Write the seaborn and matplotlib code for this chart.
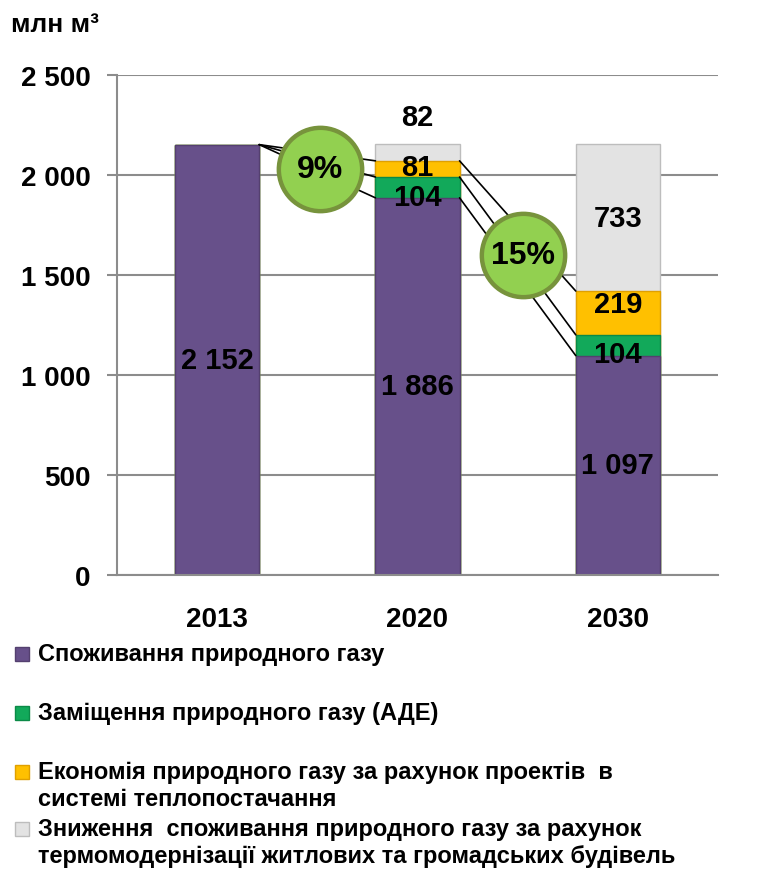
import numpy as np
import seaborn as sns
import matplotlib.pyplot as plt
from matplotlib.patches import Rectangle

# дані
years = ["2013", "2020", "2030"]
spozhyvannia = [2152, 1886, 1097]
zamishchennia = [0, 104, 104]
ekonomiia = [0, 81, 219]
znyzhennia = [0, 82, 733]

series_names = [
    "Споживання природного газу",
    "Заміщення природного газу (АДЕ)",
    "Економія природного газу за рахунок проектів  в\nсистемі теплопостачання",
    "Зниження  споживання природного газу за рахунок\nтермомодернізації житлових та громадських будівель",
]
percent_labels = ["9%", "15%"]

colors = ["#67508A", "#12A95A", "#FFC000", "#E3E3E3"]
edges = ["#54406F", "#0B8A47", "#E0A000", "#BDBDBD"]

sns.set_style("white")
plt.rcParams["font.family"] = ["Liberation Sans", "DejaVu Sans"]
plt.rcParams["font.weight"] = "bold"
plt.rcParams["text.color"] = "black"
plt.rcParams["xtick.color"] = "black"
plt.rcParams["ytick.color"] = "black"

fig = plt.figure(figsize=(7.61, 8.79), dpi=100)
ax = fig.add_axes([0.1537, 0.3447, 0.7898, 0.5688])

layers = np.array([spozhyvannia, zamishchennia, ekonomiia, znyzhennia], dtype=float)
cum = np.cumsum(layers, axis=0)
bw = 0.42

# stacked bars: draw the cumulative totals from top to bottom
for i in range(3, -1, -1):
    sns.barplot(x=years, y=cum[i], color=colors[i], saturation=1, width=bw,
                edgecolor=edges[i], linewidth=1, errorbar=None, ax=ax, zorder=2)

# підписи значень
offsets = [[0, 0, 0], [0, -48, -44], [0, 10, 45], [0, 0, 0]]
for i in range(4):
    for j in range(3):
        v = layers[i, j]
        if v == 0:
            continue
        y = cum[i, j] - v / 2 + offsets[i][j]
        if i == 3 and v < 150:
            y = cum[i, j] + 135
        txt = f"{int(v):,}".replace(",", " ")
        ax.text(j, y, txt, ha="center", va="center", fontsize=21,
                fontweight="bold", color="black", zorder=6)

# лінії між стовпцями
for k in range(3):
    ax.plot([0 + bw / 2, 1 - bw / 2], [cum[0, 0], cum[k, 1]], color="black", lw=1.2, zorder=3)
    ax.plot([1 + bw / 2, 2 - bw / 2], [cum[k, 1], cum[k, 2]], color="black", lw=1.2, zorder=3)

# кола з відсотками
circle_pos = [(0.513, 2030), (1.527, 1600)]
for (cx, cy), lab in zip(circle_pos, percent_labels):
    ax.scatter([cx], [cy], s=3600, color="#92D050", edgecolor="#77933C",
               linewidth=3.2, zorder=5)
    ax.text(cx, cy, lab, ha="center", va="center", fontsize=23,
            fontweight="bold", color="black", zorder=6)

ax.set_ylim(0, 2500)
ax.set_xlim(-0.5, 2.5)
ax.set_yticks(range(0, 2501, 500))
ax.set_yticklabels([f"{t:,}".replace(",", " ") for t in range(0, 2501, 500)])
ax.yaxis.grid(True, color="#8C8C8C", lw=1.5)
ax.set_axisbelow(True)
ax.tick_params(axis="y", labelsize=20, length=7, color="#8C8C8C", width=1.5,
               direction="out", pad=12, left=True, labelcolor="black")
ax.tick_params(axis="x", labelsize=20, length=0, pad=22, labelcolor="black")
for lab in ax.get_xticklabels() + ax.get_yticklabels():
    lab.set_fontweight("bold")
ax.set_xlabel("")
ax.set_ylabel("")
for s in ["top", "right"]:
    ax.spines[s].set_visible(False)
ax.spines["left"].set_color("#8C8C8C")
ax.spines["left"].set_linewidth(1.5)
ax.spines["bottom"].set_color("#8C8C8C")
ax.spines["bottom"].set_linewidth(1.5)

fig.text(0.014, 0.971, "млн м³", fontsize=19, fontweight="bold", va="center",
         ha="left", color="black")

# легенда
legend_y = [655, 714, 773, 830]
for i in range(4):
    yf = 1 - legend_y[i] / 879
    fig.patches.append(Rectangle((15 / 761, yf - 7 / 879), 14 / 761, 14 / 879,
                                 transform=fig.transFigure, facecolor=colors[i],
                                 edgecolor=edges[i], lw=1))
    fig.text(38 / 761, yf + 12 / 879, series_names[i], fontsize=17, fontweight="bold",
             va="top", ha="left", linespacing=1.25, color="black")

fig.savefig("out.png", dpi=100)
